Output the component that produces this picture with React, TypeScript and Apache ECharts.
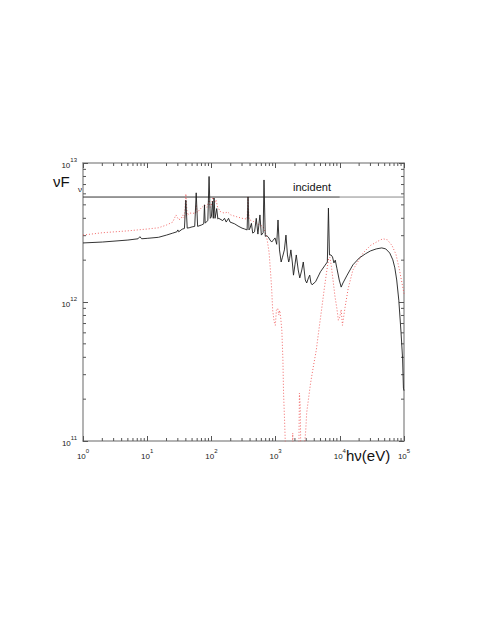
import React, { useEffect, useRef } from "react";
import * as echarts from "echarts";

// Transmitted spectrum (solid black), energy in eV, nuF_nu in units of 1e12
const blackEnergy = [1, 2, 5, 7.2, 7.7, 8.2, 10, 15, 20, 25, 29, 30, 31, 35, 38, 40, 42, 45, 50, 55, 58, 61, 70, 76, 78, 80, 88, 92, 96, 100, 104, 107, 110, 114, 121, 126, 130, 150, 160, 170, 185, 195, 200, 230, 260, 300, 330, 360, 372, 385, 400, 420, 440, 470, 500, 530, 570, 600, 640, 660, 690, 730, 770, 820, 870, 920, 980, 1040, 1090, 1150, 1220, 1280, 1370, 1450, 1530, 1600, 1650, 1730, 1820, 1900, 2000, 2100, 2250, 2380, 2560, 2700, 2900, 3050, 3250, 3400, 3550, 3700, 4200, 5000, 5800, 6400, 6650, 6900, 7300, 7700, 8100, 8500, 9000, 9800, 10500, 11200, 13000, 16000, 20000, 25000, 30000, 37000, 45000, 52000, 60000, 67000, 72000, 77000, 83000, 90000, 95000, 98000, 100000];
const blackFlux = [2.66, 2.70, 2.79, 2.85, 2.95, 2.85, 2.87, 2.92, 3.03, 3.13, 3.2, 3.3, 3.2, 3.34, 3.38, 5.4, 3.4, 3.42, 3.47, 3.5, 6.1, 3.5, 3.58, 3.65, 5.0, 3.7, 3.85, 8.0, 4.0, 4.1, 5.3, 4.0, 5.6, 4.0, 4.7, 3.95, 4.0, 3.85, 4.0, 3.76, 4.0, 3.76, 3.76, 3.65, 3.52, 3.4, 3.35, 3.3, 5.7, 3.3, 3.4, 3.68, 3.13, 3.2, 4.0, 3.08, 4.23, 3.03, 3.15, 7.55, 2.97, 3.0, 2.93, 2.79, 2.7, 2.79, 2.89, 2.6, 3.89, 2.37, 1.94, 2.1, 2.37, 3.03, 2.18, 1.94, 2.05, 2.37, 1.94, 1.56, 1.85, 2.18, 1.70, 1.49, 1.70, 1.94, 1.44, 1.37, 1.49, 1.56, 1.37, 1.33, 1.4, 1.65, 1.82, 1.94, 4.74, 2.18, 2.18, 2.11, 1.91, 2.0, 1.75, 1.44, 1.28, 1.37, 1.56, 1.85, 2.07, 2.22, 2.33, 2.41, 2.45, 2.41, 2.25, 2.01, 1.76, 1.44, 1.03, 0.60, 0.395, 0.24, 0.23];

// Second spectrum (dotted red)
const redEnergy = [1, 2, 5, 10, 15, 20, 25, 28, 31, 34, 36, 38, 40, 42, 46, 52, 56, 58, 60, 65, 78, 85, 92, 96, 100, 106, 112, 118, 125, 140, 160, 180, 200, 250, 300, 360, 372, 385, 400, 450, 520, 580, 640, 690, 740, 790, 830, 870, 900, 950, 990, 1030, 1080, 1120, 1160, 1200, 1250, 1300, 1330, 1380, 1450, 1500, 1700, 1800, 1850, 1900, 2200, 2300, 2350, 2420, 2500, 2800, 2950, 3050, 3250, 3500, 3900, 4300, 4700, 5200, 5800, 6300, 6700, 7000, 7400, 7900, 8400, 9000, 9500, 10000, 10500, 11000, 12000, 13500, 16000, 23000, 30000, 40000, 47000, 55000, 65000, 75000, 85000, 95000, 100000];
const redFlux = [3.03, 3.15, 3.25, 3.35, 3.42, 3.58, 3.76, 4.23, 3.9, 4.0, 4.23, 4.0, 6.0, 4.2, 4.36, 4.36, 4.3, 5.0, 4.4, 4.6, 5.0, 4.8, 5.42, 4.8, 5.0, 5.69, 5.15, 5.42, 4.8, 4.44, 4.36, 4.44, 4.23, 4.1, 4.0, 3.95, 5.69, 3.95, 3.89, 3.8, 3.65, 3.58, 3.47, 3.19, 2.79, 2.29, 1.70, 1.22, 0.875, 0.72, 0.68, 0.875, 0.90, 0.81, 0.87, 0.77, 0.63, 0.383, 0.221, 0.14, 0.07, 0.03, 0.03, 0.05, 0.114, 0.05, 0.05, 0.08, 0.221, 0.18, 0.05, 0.09, 0.12, 0.16, 0.20, 0.26, 0.35, 0.45, 0.62, 0.88, 1.3, 1.7, 2.05, 2.1, 1.8, 1.4, 1.1, 0.9, 0.74, 0.78, 0.88, 0.68, 0.9, 1.25, 1.7, 2.25, 2.55, 2.75, 2.85, 2.8, 2.55, 2.2, 1.7, 1.3, 1.15];

// Incident continuum level
const incidentLevel = 5.69; // x 1e12
const incidentEnergy = [1, 10000, 100000];

const FLUX_UNIT = 1e12;
const xMin = 1, xMax = 1e5, yMin = 1e11, yMax = 1e13;
const xDecades = [0, 1, 2, 3, 4];
const yDecades = [11, 12];
const minorMultipliers = [2, 3, 4, 5, 6, 7, 8, 9];

const xMinorTicks = xDecades.flatMap((d) => minorMultipliers.map((m) => m * Math.pow(10, d)));
const yMinorTicks = yDecades.flatMap((d) => minorMultipliers.map((m) => m * Math.pow(10, d)));

const FONT = "Liberation Sans, Arial, Helvetica, sans-serif";

const powLabel = (v: number) => `{b|10}{s|${Math.round(Math.log10(v))}}`;
const powRich = {
  b: { fontSize: 8, fontFamily: FONT, color: "#222", lineHeight: 12, verticalAlign: "bottom" },
  s: { fontSize: 6, fontFamily: FONT, color: "#222", lineHeight: 12, verticalAlign: "top" },
};

export default function App() {
  const ref = useRef<HTMLDivElement>(null);

  useEffect(() => {
    if (!ref.current) return;
    const chart = echarts.init(ref.current, null, { renderer: "svg" });

    const black = blackEnergy.map((e, i) => [e, blackFlux[i] * FLUX_UNIT]);
    const red = redEnergy.map((e, i) => [e, redFlux[i] * FLUX_UNIT]);
    const incidentA = incidentEnergy.slice(0, 2).map((e) => [e, incidentLevel * FLUX_UNIT]);
    const incidentB = incidentEnergy.slice(1).map((e) => [e, incidentLevel * FLUX_UNIT]);

    const axisLine = { show: true, onZero: false, lineStyle: { color: "#9a9a9a", width: 1.5 } };
    const axisTick = { show: true, inside: true, length: 5, lineStyle: { color: "#555", width: 1 } };

    const option: any = {
      animation: false,
      backgroundColor: "#fff",
      grid: { left: 83, right: 87, top: 163, bottom: 194 },
      xAxis: [
        {
          type: "log", logBase: 10, min: xMin, max: xMax, position: "bottom",
          axisLine, axisTick, splitLine: { show: false },
          axisLabel: { margin: 7, formatter: powLabel, rich: powRich },
        },
        {
          type: "log", logBase: 10, min: xMin, max: xMax, position: "top",
          axisLine, axisTick, splitLine: { show: false }, axisLabel: { show: false },
        },
      ],
      yAxis: [
        {
          type: "log", logBase: 10, min: yMin, max: yMax, position: "left",
          axisLine, axisTick, splitLine: { show: false },
          axisLabel: { margin: 6, formatter: powLabel, rich: powRich, showMaxLabel: true, showMinLabel: true },
        },
        {
          type: "log", logBase: 10, min: yMin, max: yMax, position: "right",
          axisLine, axisTick, splitLine: { show: false }, axisLabel: { show: false },
        },
      ],
      series: [
        {
          type: "line", data: incidentA, symbol: "none", silent: true,
          lineStyle: { color: "#333", width: 1 },
        },
        {
          type: "line", data: incidentB, symbol: "none", silent: true,
          lineStyle: { color: "#8a8a8a", width: 1 },
        },
        {
          type: "line", data: red, symbol: "none", silent: true, clip: true,
          lineStyle: { color: "#ee4b4b", width: 1, type: [1, 2], opacity: 0.85 },
        },
        {
          type: "line", data: black, symbol: "none", silent: true, clip: true,
          lineStyle: { color: "#1e1e1e", width: 0.9 },
        },
        {
          type: "custom", silent: true,
          data: xMinorTicks.map((v) => [v, FLUX_UNIT]),
          renderItem: (params: any, api: any) => {
            const v = api.value(0);
            const b = api.coord([v, yMin]);
            const t = api.coord([v, yMax]);
            const st = { stroke: "#555", lineWidth: 1 };
            return {
              type: "group",
              children: [
                { type: "line", shape: { x1: b[0], y1: b[1], x2: b[0], y2: b[1] - 3 }, style: st },
                { type: "line", shape: { x1: t[0], y1: t[1], x2: t[0], y2: t[1] + 3 }, style: st },
              ],
            };
          },
        },
        {
          type: "custom", silent: true,
          data: yMinorTicks.map((v) => [10, v]),
          renderItem: (params: any, api: any) => {
            const v = api.value(1);
            const l = api.coord([xMin, v]);
            const r = api.coord([xMax, v]);
            const st = { stroke: "#555", lineWidth: 1 };
            return {
              type: "group",
              children: [
                { type: "line", shape: { x1: l[0], y1: l[1], x2: l[0] + 3, y2: l[1] }, style: st },
                { type: "line", shape: { x1: r[0], y1: r[1], x2: r[0] - 3, y2: r[1] }, style: st },
              ],
            };
          },
        },
      ],
      graphic: [
        {
          type: "text", x: 53, y: 189,
          style: { text: "νF", fontSize: 15, fontFamily: FONT, fill: "#111", verticalAlign: "bottom" },
        },
        {
          type: "text", x: 78, y: 193,
          style: { text: "ν", fontSize: 8, fontFamily: FONT, fill: "#111", verticalAlign: "bottom" },
        },
        {
          type: "text", x: 312, y: 187,
          style: { text: "incident", fontSize: 11, fontFamily: FONT, fill: "#111", align: "center", verticalAlign: "middle" },
        },
        {
          type: "text", x: 346, y: 455,
          style: { text: "hν(eV)", fontSize: 15, fontFamily: FONT, fill: "#111", align: "left", verticalAlign: "middle" },
        },
      ],
    };

    chart.setOption(option);
    return () => chart.dispose();
  }, []);

  return (
    <div
      ref={ref}
      style={{ position: "absolute", left: 0, top: 0, width: 491, height: 635, background: "#fff" }}
    />
  );
}
